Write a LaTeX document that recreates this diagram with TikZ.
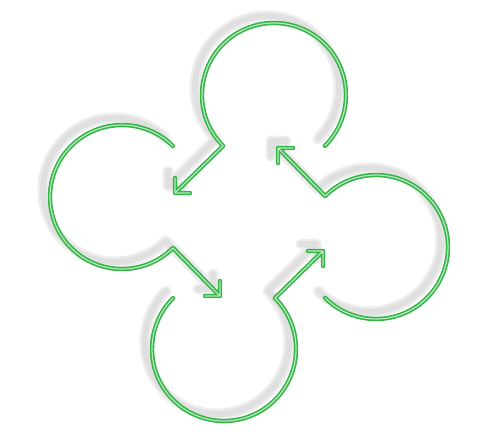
\documentclass[tikz,border=0pt]{standalone}
\definecolor{lg}{HTML}{34B548}
\definecolor{lgin}{HTML}{B8E8BE}
\tikzset{
 shadowwide/.style={line width=11pt, draw=black!7, line cap=round, line join=round},
 shadowcore/.style={line width=6pt, draw=black!12, line cap=round, line join=round},
 outerline/.style={line width=4.4pt, draw=lg, line cap=round, line join=round},
 innerline/.style={line width=1.2pt, draw=lgin, line cap=round, line join=round},
}
\newcommand\lobepath{(324.9,145.9) arc[start angle=45, end angle=-225, radius=72] -- (175,193) (190,193) -- (175,193) -- (175,178)}
\begin{document}
\begin{tikzpicture}[x=1pt,y=-1pt]
\useasboundingbox (0,0) rectangle (498,440);
\foreach \k in {0,1,2,3}{
 \begin{scope}[shift={(-7,-7)}, rotate around={-90*\k:(249,222)}]
   \draw[shadowwide] \lobepath;
   \draw[shadowcore] \lobepath;
 \end{scope}}
\foreach \k in {0,1,2,3}{
 \begin{scope}[rotate around={-90*\k:(249,222)}]
   \draw[outerline] \lobepath;
 \end{scope}}
\foreach \k in {0,1,2,3}{
 \begin{scope}[rotate around={-90*\k:(249,222)}]
   \draw[innerline] \lobepath;
 \end{scope}}
\end{tikzpicture}
\end{document}
